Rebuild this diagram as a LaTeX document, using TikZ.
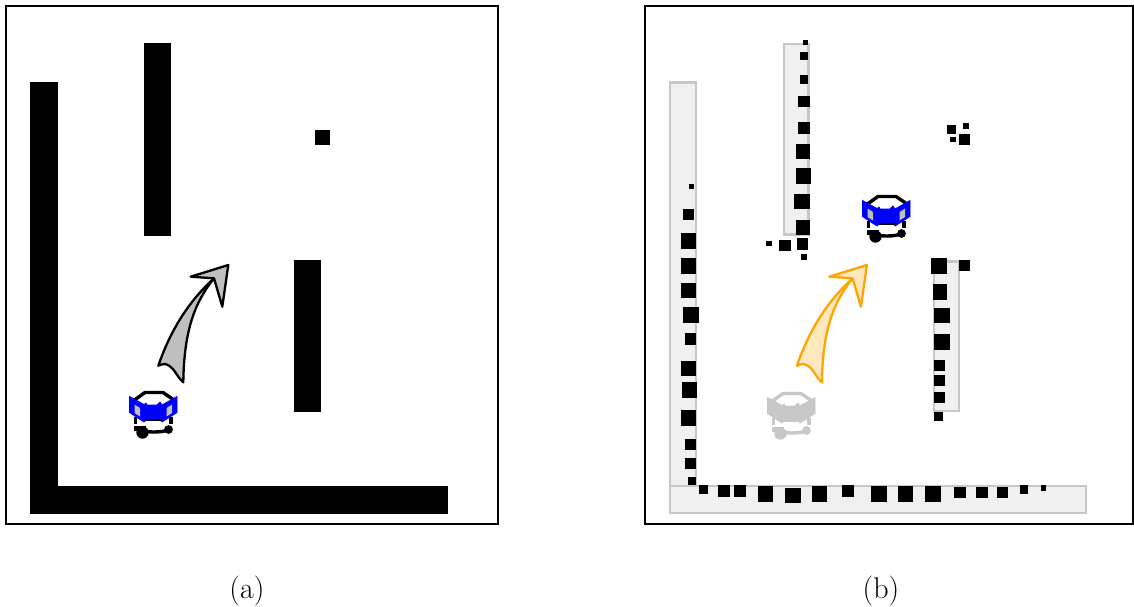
\documentclass[tikz,border=0pt]{standalone}
\definecolor{wallgrey}{gray}{0.94}
\definecolor{walledge}{gray}{0.78}
\definecolor{arrowgrey}{gray}{0.75}
\definecolor{arroworange}{RGB}{255,165,0}
\definecolor{arrowpale}{RGB}{255,232,190}
\tikzset{
  frame/.style={draw=black,line width=2pt,fill=white},
  wall/.style={fill=black,draw=none},
  scanwall/.style={fill=wallgrey,draw=walledge,line width=2.2pt},
  hit/.style={fill=black,draw=none},
  moveline/.style={line width=2.3pt,line join=round,line cap=round},
  caption/.style={font=\fontsize{30}{34}\selectfont,inner sep=0pt}
}
% #1 = x shift, #2 = y shift, #3 = frame colour, #4 = panel colour, #5 = panel fill
\newcommand{\myrobot}[5]{%
\begin{scope}[shift={(#1,#2)}]
  \draw[#3,line width=3.4pt,line join=round] (134.5,400) -- (145,392.5) -- (163,392.5) -- (174,400);
  \draw[#3,line width=3.2pt] (135.5,417) -- (135.5,423.5) (171,417) -- (171,423.5);
  \draw[#3,line width=3.4pt,line cap=round] (136,428.5) .. controls (146,433) and (160,433) .. (170,429.5);
  \fill[#3] (134,426) rectangle (146,431);
  \fill[#3] (142.5,432.5) circle (6.2);
  \fill[#3] (168.5,429.5) circle (4.4);
  \fill[#4,draw=#4,line width=.8pt,line join=round] (129.5,396.5) -- (144,404.5) -- (146,403) -- (147,405) -- (157,405) -- (160,402) -- (162,405) -- (177,396.5) -- (177,412.5) -- (162,422) -- (160,419) -- (147,419) -- (144,422) -- (129.5,412.5) -- cycle;
  \fill[#5] (134.5,404.5) -- (140,408) -- (140,416.5) -- (134.5,413) -- cycle;
  \fill[#5] (172,404.5) -- (166.5,408) -- (166.5,416.5) -- (172,413) -- cycle;
  \fill[#3] (146,419) rectangle (162,420.5);
\end{scope}}
% #1 = x shift, #2 = edge, #3 = fill
\newcommand{\mymove}[3]{%
\draw[moveline,draw=#2,fill=#3,shift={(#1,0)}]
  (158.3,365.7) .. controls (170,332) and (187,303) .. (214,278.3)
  -- (190.7,276.7) -- (228.3,265) -- (222.3,306.7) -- (214,278.3)
  .. controls (195,302) and (184,330) .. (183.3,382.3)
  .. controls (176,376) and (174,366) .. (165,364) .. controls (162,364) and (160,365) .. (158.3,365.7) -- cycle;}
\newcommand{\myhit}[4]{\fill[hit] (#1-.2,#3-.2) rectangle (#2+.2,#4+.2);}
\begin{document}
\begin{tikzpicture}[x=1pt,y=-1pt]
\useasboundingbox (0,0) rectangle (1134,607);
% panel (a)
\path[frame] (6,6) rectangle (498,524);
\fill[wall] (30,82) rectangle (58,514);
\fill[wall] (30,486) rectangle (448,514);
\fill[wall] (144,43) rectangle (171,236);
\fill[wall] (294,260) rectangle (321,412);
\fill[wall] (314.5,130) rectangle (330,145);
\mymove{0}{black}{arrowgrey}
\myrobot{0}{0}{black}{blue}{arrowgrey}
\node[caption] (capa) at (247,591) {(a)};
% panel (b)
\path[frame] (645,6) rectangle (1133.4,524);
\path[scanwall] (670,82.5) rectangle (695.8,486);
\path[scanwall] (670,486) rectangle (1086,513);
\path[scanwall] (783.6,44) rectangle (808.4,234.5);
\path[scanwall] (933.6,261.5) rectangle (958.6,411);
\fill[wallgrey] (954,131) rectangle (969,145);
\myrobot{638}{1}{walledge}{walledge}{walledge}
\mymove{638.6}{arroworange}{arrowpale}
\myrobot{733}{-196}{black}{blue}{arrowgrey}
% scan hits, left wall
\myhit{689.3}{694}{184}{189}
\myhit{683.3}{694}{208.7}{219.7}
\myhit{680.7}{695.7}{233}{248.3}
\myhit{680.7}{695.7}{258}{273.3}
\myhit{680.7}{695.7}{282.7}{298}
\myhit{683.3}{698.3}{307.3}{322.7}
\myhit{684.7}{695.7}{333.3}{344.3}
\myhit{680.7}{695.7}{360.7}{375.7}
\myhit{682}{697}{382.3}{397.3}
\myhit{680.7}{695.7}{410}{425.3}
\myhit{684.7}{695.7}{439}{449.3}
\myhit{684.7}{695.7}{457.7}{468.7}
\myhit{687.7}{695.7}{476.7}{484.7}
% bottom wall
\myhit{699.3}{707.3}{485.3}{493.3}
\myhit{718.3}{729.3}{485.3}{496.3}
\myhit{734.3}{745.3}{485.3}{496.3}
\myhit{757.7}{773}{486.3}{501.3}
\myhit{785.3}{800.7}{487.7}{503}
\myhit{811.7}{827}{486.3}{501.3}
\myhit{842.3}{853.3}{485.3}{496.3}
\myhit{871.3}{886.7}{486.3}{501.3}
\myhit{897.7}{913}{486.3}{501.3}
\myhit{925.3}{940.7}{486.3}{501.3}
\myhit{954.3}{965.3}{486.7}{497.7}
\myhit{976.3}{987.3}{486.7}{497.7}
\myhit{996.7}{1007.7}{486.7}{497.7}
\myhit{1020}{1028}{485.3}{493.3}
\myhit{1040.7}{1045.7}{485.3}{490.7}
% upper wall
\myhit{803}{808}{40.3}{45.3}
\myhit{800}{808}{52}{60.3}
\myhit{800}{808}{75.7}{83.7}
\myhit{798.3}{809.3}{96}{107}
\myhit{798.3}{809.3}{122.3}{133.3}
\myhit{795.7}{809.3}{143.7}{159}
\myhit{795.7}{811}{168.3}{183.7}
\myhit{794.3}{809.3}{193.7}{208.7}
\myhit{795.7}{809.3}{220}{235}
\myhit{766.3}{771.3}{241}{246}
\myhit{779.3}{790.3}{239.7}{250.7}
\myhit{797}{808}{238.3}{249.3}
\myhit{801.3}{806.3}{254.3}{259.3}
% small block
\myhit{947.3}{955.3}{125.3}{133.3}
\myhit{963.3}{968.3}{123.7}{129}
\myhit{950.3}{955.3}{137}{142}
\myhit{959}{969.7}{134}{145}
% right wall
\myhit{931.3}{946.7}{258}{273.3}
\myhit{959}{970}{260}{271}
\myhit{932.7}{946.7}{284.3}{299.3}
\myhit{934.3}{949.3}{307.7}{322.7}
\myhit{934.3}{949.3}{334}{349.3}
\myhit{934.3}{945}{359.7}{370.3}
\myhit{934.3}{945}{374.7}{385.3}
\myhit{934.3}{945}{392}{402.7}
\myhit{934.3}{942.3}{412.3}{420.3}
\node[caption] (capb) at (881,591) {(b)};
\end{tikzpicture}
\end{document}
